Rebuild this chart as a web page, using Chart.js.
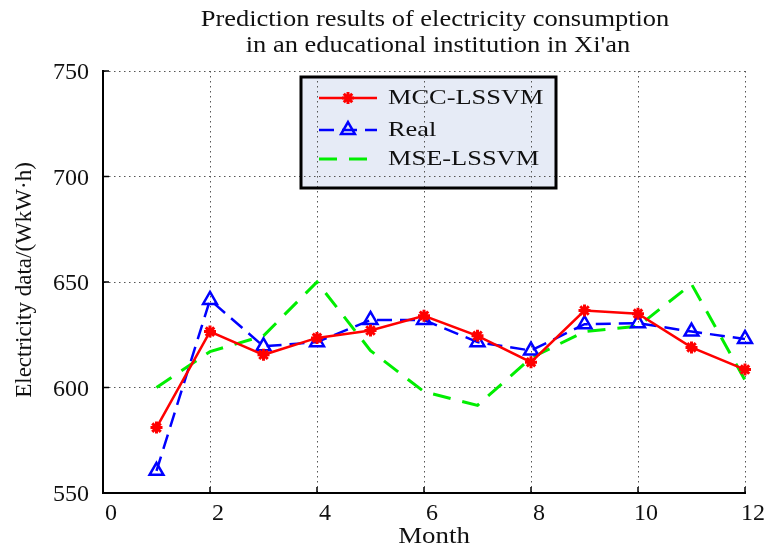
<!DOCTYPE html>
<html>
<head>
<meta charset="utf-8">
<script src="https://cdn.jsdelivr.net/npm/chart.js@4/dist/chart.umd.min.js"></script>
<style>
  html, body { margin: 0; background: #fff; }
  #wrap { width: 776px; height: 558px; }
</style>
</head>
<body>
<div id="wrap"><canvas id="chart"></canvas></div>
<script>
// values
const months = [1, 2, 3, 4, 5, 6, 7, 8, 9, 10, 11, 12];
const mccLssvm = [581, 626.5, 615.5, 623.5, 627, 634, 624.5, 612, 636.5, 635, 619, 608.5];
const realData = [560.5, 641.5, 619.5, 621.5, 632, 632, 621.5, 617.5, 630, 630.5, 626.5, 623];
const mseLssvm = [600, 617, 624.5, 650, 617.5, 598, 591.5, 614, 626.5, 629, 649, 603.5];
const seriesNames = ['MCC-LSSVM', 'Real', 'MSE-LSSVM'];
const titleLines = ['Prediction results of electricity consumption', 'in an educational institution in Xi\'an'];
const xTitle = 'Month';
const yTitle = 'Electricity data/(WkW\u00b7h)';

const SERIF = '"Liberation Serif", "Times New Roman", serif';

function pts(ys){ return months.map((m, i) => ({ x: m, y: ys[i] })); }

// text stretched along x, the source image is a bit wide
function stretchText(ctx, text, x, y, font, sx, align){
  ctx.save();
  ctx.translate(x, y);
  ctx.scale(sx, 1);
  ctx.font = font;
  ctx.fillStyle = '#111';
  ctx.textAlign = align || 'center';
  ctx.textBaseline = 'middle';
  ctx.fillText(text, 0, 0);
  ctx.restore();
}

const box = { l: 301, t: 77, r: 556, b: 188 };

const decor = {
  id: 'decor',
  beforeDraw(chart){
    const ctx = chart.ctx;
    ctx.save();
    ctx.fillStyle = '#e6ebf6';
    ctx.fillRect(box.l, box.t, box.r - box.l, box.b - box.t);
    ctx.restore();
  },
  afterDraw(chart){
    const ctx = chart.ctx;
    const xs = chart.scales.x, ys = chart.scales.y;
    const area = chart.chartArea;

    // inward tick marks
    ctx.save();
    ctx.strokeStyle = '#000';
    ctx.lineWidth = 1.5;
    ctx.beginPath();
    xs.ticks.forEach(t => {
      if (t.value === xs.min) return;
      const px = xs.getPixelForValue(t.value);
      ctx.moveTo(px, area.bottom); ctx.lineTo(px, area.bottom - 6);
    });
    ys.ticks.forEach(t => {
      if (t.value === ys.min) return;
      const py = ys.getPixelForValue(t.value);
      ctx.moveTo(area.left, py); ctx.lineTo(area.left + 6, py);
    });
    ctx.stroke();
    ctx.restore();

    // titles
    stretchText(ctx, titleLines[0], 435, 20, '23px ' + SERIF, 1.15);
    stretchText(ctx, titleLines[1], 438, 46, '23px ' + SERIF, 1.15);
    stretchText(ctx, xTitle, 434, 537, '24px ' + SERIF, 1.12);
    ctx.save();
    ctx.translate(25, 280);
    ctx.rotate(-Math.PI / 2);
    ctx.font = '23px ' + SERIF;
    ctx.fillStyle = '#111';
    ctx.textAlign = 'center';
    ctx.textBaseline = 'middle';
    ctx.fillText(yTitle, 0, 0);
    ctx.restore();

    // legend
    ctx.save();
    ctx.strokeStyle = '#000';
    ctx.lineWidth = 3;
    ctx.strokeRect(box.l, box.t, box.r - box.l, box.b - box.t);
    ctx.restore();
    const rows = [98, 130, 159];
    chart.data.datasets.forEach((ds, i) => {
      const y = rows[i];
      ctx.save();
      ctx.strokeStyle = ds.borderColor;
      ctx.lineWidth = ds.borderWidth;
      ctx.setLineDash(ds.borderDash || []);
      ctx.beginPath();
      ctx.moveTo(319, y); ctx.lineTo(377, y);
      ctx.stroke();
      ctx.setLineDash([]);
      if (ds.pointStyle && ds.pointRadius > 0) {
        ctx.lineWidth = ds.pointBorderWidth;
        ctx.strokeStyle = ds.pointBorderColor;
        ctx.fillStyle = ds.pointBackgroundColor;
        Chart.helpers.drawPoint(ctx, { pointStyle: ds.pointStyle, radius: ds.pointRadius, borderWidth: ds.pointBorderWidth, rotation: 0 }, 348, y);
      }
      ctx.restore();
      stretchText(ctx, seriesNames[i], 388, y, '22px ' + SERIF, 1.2, 'left');
    });
  }
};

new Chart(document.getElementById('chart'), {
  type: 'line',
  data: {
    datasets: [
      {
        label: seriesNames[0], data: pts(mccLssvm), clip: false,
        borderColor: '#ff0000', borderWidth: 2.5,
        pointStyle: 'star', pointRadius: 6, pointBorderWidth: 3,
        pointBorderColor: '#ff0000', pointBackgroundColor: '#ff0000'
      },
      {
        label: seriesNames[1], data: pts(realData), clip: false,
        borderColor: '#0000ff', borderWidth: 2.5, borderDash: [15, 8],
        pointStyle: 'triangle', pointRadius: 8, pointBorderWidth: 2.5,
        pointBorderColor: '#0000ff', pointBackgroundColor: 'rgba(255,255,255,0)'
      },
      {
        label: seriesNames[2], data: pts(mseLssvm), clip: false,
        borderColor: '#00ee00', borderWidth: 3, borderDash: [18, 12],
        pointRadius: 0, pointStyle: false,
        pointBorderColor: '#00ee00', pointBackgroundColor: '#00ee00'
      }
    ]
  },
  options: {
    responsive: true,
    maintainAspectRatio: false,
    animation: false,
    layout: { padding: { top: 71, right: 31, bottom: 0, left: 0 } },
    plugins: { legend: { display: false }, title: { display: false }, tooltip: { enabled: false } },
    scales: {
      x: {
        type: 'linear', min: 0, max: 12,
        afterFit(s){ s.height = 65; },
        ticks: { stepSize: 2, color: '#111', font: { family: SERIF, size: 24 }, padding: 6, labelOffset: 8, maxRotation: 0 },
        grid: { color: '#555', lineWidth: 1, drawTicks: false, tickLength: 0 },
        border: { display: true, color: '#000', width: 2, dash: [1.5, 3.5] }
      },
      y: {
        min: 550, max: 750,
        afterFit(s){ s.width = 103; },
        ticks: { stepSize: 50, color: '#111', font: { family: SERIF, size: 24 }, padding: 14, labelOffset: 2 },
        grid: { color: '#555', lineWidth: 1, drawTicks: false, tickLength: 0 },
        border: { display: true, color: '#000', width: 2, dash: [1.5, 3.5] }
      }
    }
  },
  plugins: [decor]
});
</script>
</body>
</html>
